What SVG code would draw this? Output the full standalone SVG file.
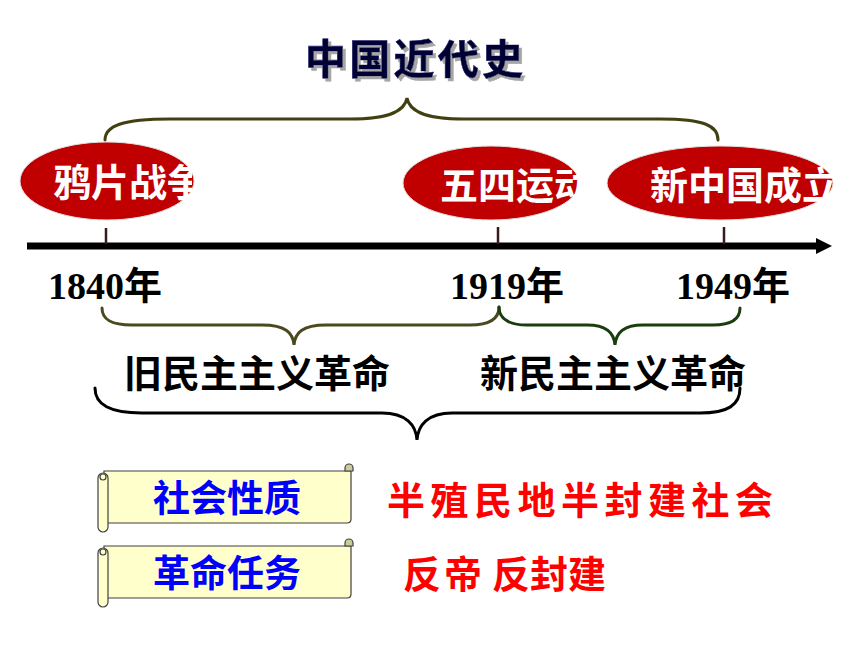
<svg xmlns="http://www.w3.org/2000/svg" width="860" height="645" viewBox="0 0 860 645">
<style>
.cjk{font-family:"Noto Sans CJK SC","Noto Sans",sans-serif;font-weight:700}
.ev{fill:#c00000;stroke:#e0e0e0;stroke-width:1}
.evt{fill:#ffffff;font-size:38px}
.yr{font-family:"Liberation Serif","Noto Sans CJK SC",serif;font-weight:700;font-size:38px;fill:#000}
.lbl{font-size:38px;fill:#000}
.tick{stroke:#3a1a1a;stroke-width:2.5}
.brace{fill:none;stroke-width:3;stroke-linecap:round}
.scroll{fill:#ffffcc;stroke:#404040;stroke-width:1.2}
.curl{fill:#cccc99;stroke:#404040;stroke-width:1.2}
.blue{fill:#0000ff;font-size:37px}
.red{fill:#ff0000;font-size:38px}
</style>
<defs>
<clipPath id="c1"><rect x="0" y="140" width="192" height="90"/></clipPath>
<clipPath id="c2"><rect x="400" y="140" width="183" height="90"/></clipPath>
<clipPath id="c3"><rect x="600" y="140" width="235" height="90"/></clipPath>
<filter id="shadow" x="-10%" y="-20%" width="130%" height="150%">
<feOffset in="SourceAlpha" dx="3" dy="3" result="o"/>
<feFlood flood-color="#a6a6a6"/>
<feComposite in2="o" operator="in" result="s"/>
<feMerge><feMergeNode in="s"/><feMergeNode in="SourceGraphic"/></feMerge>
</filter>
</defs>
<rect width="860" height="645" fill="#ffffff"/>

<g id="title">
<text x="305" y="74" class="cjk" font-size="41" textLength="218" fill="#000033" stroke="#1a1a66" stroke-width="0.6" filter="url(#shadow)">中国近代史</text>
</g>

<g id="connectors">
<path class="brace" stroke="#404010" d="M105,140 C105,126 122,119 170,119 L350,119 C392,119 405,110 407,98 C409,110 422,119 464,119 L660,119 C705,119 718,126 718,140"/>
<line x1="27" y1="246" x2="818" y2="246" stroke="#000" stroke-width="7"/>
<polygon points="816,238 832,246 816,254" fill="#000"/>
<line class="tick" x1="106" y1="228" x2="106" y2="244"/>
<line class="tick" x1="498" y1="227" x2="498" y2="244"/>
<line class="tick" x1="724" y1="227" x2="724" y2="244"/>
<path class="brace" stroke="#4a4a1e" d="M102,308 C102,320 112,325 132,325 L262,325 C286,325 293,333 294,345 C295,333 302,325 326,325 L470,325 C490,325 499,318 499,307"/>
<path class="brace" stroke="#1a3d0d" d="M499,307 C499,318 508,325 527,325 L587,325 C607,325 614,333 615,345 C616,333 623,325 643,325 L713,325 C733,325 740,318 740,308"/>
<path class="brace" stroke="#000" stroke-width="2" d="M95,388 C95,405 110,413 142,413 L382,413 C406,413 416,425 417,440 C418,425 428,413 452,413 L700,413 C728,413 740,405 740,388"/>
</g>

<g id="node-opium">
<ellipse class="ev" cx="107" cy="181" rx="87" ry="39"/>
<text class="cjk evt" x="53" y="196" clip-path="url(#c1)">鸦片战争</text>
</g>
<g id="node-may4">
<ellipse class="ev" cx="491" cy="183" rx="88" ry="37"/>
<text class="cjk evt" x="440" y="199" clip-path="url(#c2)">五四运动</text>
</g>
<g id="node-prc">
<ellipse class="ev" cx="720" cy="183" rx="113" ry="37"/>
<text class="cjk evt" x="650" y="199" clip-path="url(#c3)">新中国成立</text>
</g>

<g id="year-1840"><text class="yr" x="48" y="299">1840年</text></g>
<g id="year-1919"><text class="yr" x="450" y="299">1919年</text></g>
<g id="year-1949"><text class="yr" x="676" y="299">1949年</text></g>

<g id="label-old"><text class="cjk lbl" x="124" y="387">旧民主主义革命</text></g>
<g id="label-new"><text class="cjk lbl" x="480" y="387">新民主主义革命</text></g>

<g id="scroll-nature">
<path class="scroll" d="M104,471 H351 V519 Q351,523 347,523 H104 Z"/>
<path class="curl" d="M345,471 V468 A4,4 0 0 1 353,468 V471 Z"/>
<rect class="scroll" x="98" y="473" width="10" height="59" rx="5"/>
<circle class="scroll" cx="103" cy="477" r="3"/>
<text class="cjk blue" x="153" y="512">社会性质</text>
</g>
<g id="scroll-task">
<path class="scroll" d="M104,546 H351 V594 Q351,598 347,598 H104 Z"/>
<path class="curl" d="M345,546 V543 A4,4 0 0 1 353,543 V546 Z"/>
<rect class="scroll" x="98" y="548" width="10" height="59" rx="5"/>
<circle class="scroll" cx="103" cy="552" r="3"/>
<text class="cjk blue" x="153" y="587">革命任务</text>
</g>

<g id="text-nature"><text class="cjk red" x="387" y="514" letter-spacing="5.5">半殖民地半封建社会</text></g>
<g id="text-task"><text class="cjk red" x="403" y="588" letter-spacing="3">反帝 <tspan x="492" letter-spacing="0">反封建</tspan></text></g>
</svg>
